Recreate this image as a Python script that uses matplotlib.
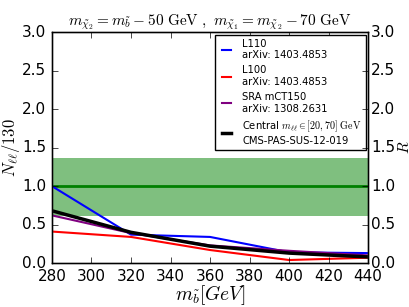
import matplotlib
matplotlib.use("Agg")
import matplotlib.pyplot as plt

mass = [280, 320, 360, 400, 440]
l110 = [1.0, 0.37, 0.34, 0.14, 0.13]
l100 = [0.41, 0.34, 0.17, 0.04, 0.07]
sra = [0.62, 0.39, 0.23, 0.16, 0.10]
central = [0.68, 0.40, 0.22, 0.13, 0.08]
band_low, band_high, band_mid = 0.61, 1.37, 1.0

plt.style.use("classic")
plt.rcParams["mathtext.fontset"] = "cm"

fig = plt.figure(figsize=(4.09, 3.07), dpi=100)
ax = fig.add_axes([0.127, 0.143, 0.773, 0.752])
ax.axhspan(band_low, band_high, color="green", alpha=0.5, lw=0)
ax.axhline(band_mid, color="green", lw=2)
ax.plot(mass, l110, color="blue", lw=1.5, label="L110\narXiv: 1403.4853")
ax.plot(mass, l100, color="red", lw=1.5, label="L100\narXiv: 1403.4853")
ax.plot(mass, sra, color="purple", lw=1.5, label="SRA mCT150\narXiv: 1308.2631")
ax.plot(mass, central, color="black", lw=2.5,
        label="Central $m_{\\ell\\ell}\\in[20,70]\\ \\mathrm{GeV}$\nCMS-PAS-SUS-12-019")
ax.set_xlim(280, 440)
ax.set_ylim(0, 3)
ax.set_xticks(range(280, 441, 20))
ax.set_yticks([0, 0.5, 1, 1.5, 2, 2.5, 3])
ax.tick_params(labelsize=11)
ax.set_xlabel(r"$m_{\tilde{b}}[GeV]$", fontsize=14, labelpad=0)
ax.set_ylabel(r"$N_{\ell\ell}/130$", fontsize=12, labelpad=0)
ax.set_title(r"$m_{\tilde{\chi}_2}=m_{\tilde{b}}-50\ \mathrm{GeV}\ ,\ m_{\tilde{\chi}_1}=m_{\tilde{\chi}_2}-70\ \mathrm{GeV}$",
             fontsize=11, y=1.0)
leg = ax.legend(loc="upper right", fontsize=7.2, borderaxespad=0.25, handlelength=1.5,
                labelspacing=0.5, frameon=True, fancybox=False)
for s in ax.spines.values():
    s.set_color("#555555")
ax2 = ax.twinx()
ax2.set_ylim(0, 3)
ax2.set_yticks([0, 0.5, 1, 1.5, 2, 2.5, 3])
ax2.tick_params(labelsize=11, pad=2)
ax2.set_ylabel(r"$R$", fontsize=11)
ax2.yaxis.set_label_coords(1.09, 0.5)
fig.savefig("out.png", dpi=100)
